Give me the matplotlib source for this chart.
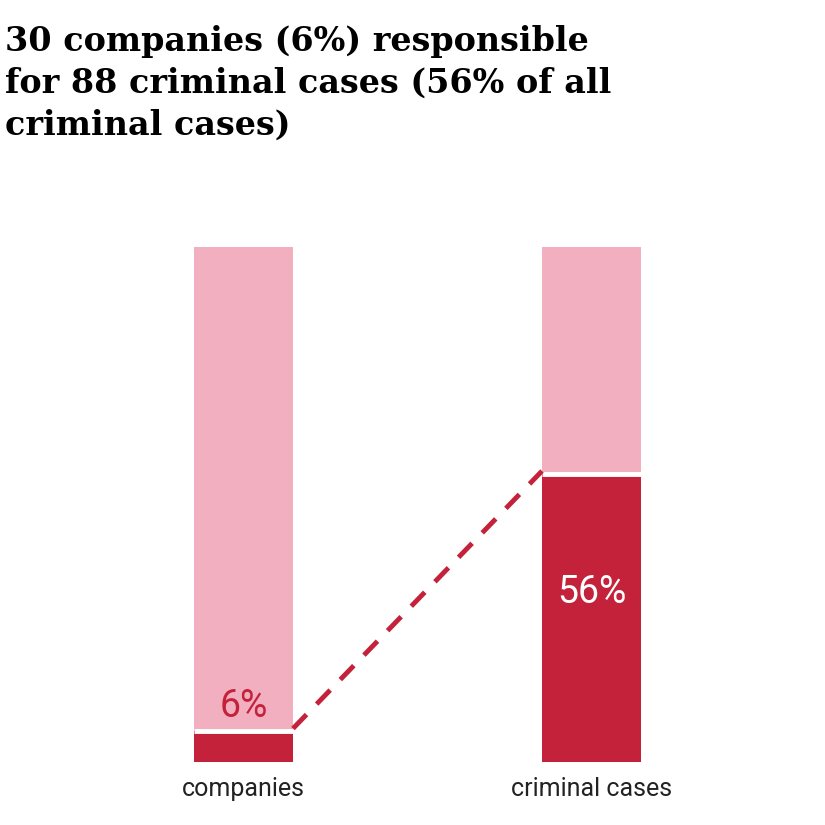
import matplotlib.pyplot as plt

categories = ['companies', 'criminal cases']
shares = [6, 56]
labels = ['6%', '56%']
title = '30 companies (6%) responsible\nfor 88 criminal cases (56% of all\ncriminal cases)'

dark = '#c4223a'
light = '#f2afc0'

fig = plt.figure(figsize=(8.25, 8.25), dpi=100)
ax = fig.add_axes([194/825, 63/825, 447/825, 515/825])
w = 99/348
x = [0, 1]
ax.bar(x, [100]*2, width=w, color=light, linewidth=0)
ax.bar(x, shares, width=w, color=dark, linewidth=0)
for xi, s in zip(x, shares):
    ax.plot([xi - w/2, xi + w/2], [s, s], color='white', lw=3.5, solid_capstyle='butt')
ax.set_xlim(-w/2, 1 + w/2)
ax.set_ylim(0, 100)
ax.axis('off')

ax.plot([x[0] + w/2, x[1] - w/2], [shares[0] + 0.5, shares[1] + 0.5], color=dark, lw=3.5,
        dashes=(4, 3), clip_on=False)

ax.text(x[0], shares[0] + 1.2, labels[0], color=dark, ha='center', va='bottom',
        fontsize=27, family='Roboto')
ax.text(x[1], shares[1] - 23, labels[1], color='white', ha='center', va='center',
        fontsize=27, family='Roboto')
for xi, c in zip(x, categories):
    ax.text(xi, -3, c, ha='center', va='top', fontsize=18, family='Roboto', color='#222222')

fig.text(5/825, 1 - 25/825, title, ha='left', va='top', fontsize=24, fontweight='bold',
         family='DejaVu Serif', linespacing=1.35)
fig.savefig('out.png')
